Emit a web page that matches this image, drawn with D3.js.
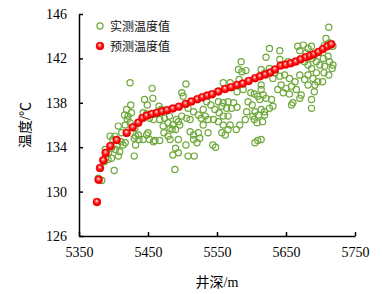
<!DOCTYPE html>
<html>
<head>
<meta charset="utf-8">
<script src="https://d3js.org/d3.v7.min.js"></script>
<style>
body { margin: 0; background: #fff; }
</style>
</head>
<body>
<svg width="382" height="294"></svg>
<script>
// measured temperature (green open circles): [depth m, temp C]
var measured = [
  [5378,131.2],[5383,131.0],[5387,132.7],[5388,133.8],[5392,132.9],[5393,133.5],[5397,133.9],[5397,133.0],
  [5403,133.8],[5409,133.6],[5407,133.2],[5411,134.5],[5414,134.2],[5395,135.0],[5402,135.0],[5399,134.7],
  [5407,135.9],[5412,135.3],[5401,131.9],[5430,133.2],[5432,134.2],[5430,134.8],[5432,135.0],[5436,135.1],
  [5437,134.7],[5443,134.7],[5448,135.1],[5419,137.4],[5416,136.9],[5426,137.1],[5421,136.8],[5424,139.8],
  [5425,137.8],[5445,138.3],[5456,139.3],[5457,138.4],[5417,136.0],[5424,136.2],[5431,135.7],[5389,133.1],
  [5405,134.2],[5420,136.5],[5448,137.0],[5443,137.1],[5449,137.8],[5452,136.6],[5458,136.5],[5467,136.5],
  [5465,137.1],[5469,137.4],[5466,137.7],[5450,135.3],[5452,134.7],[5460,134.6],[5467,134.6],[5458,134.5],
  [5417,134.4],
  [5474,136.6],[5481,136.8],[5479,136.2],[5486,136.0],[5491,136.5],[5485,135.6],[5490,135.6],[5473,135.3],
  [5479,135.0],[5490,133.9],[5486,133.3],[5489,132.0],[5494,133.5],[5496,136.0],[5494,136.3],[5499,136.8],
  [5506,136.6],[5511,136.5],[5508,137.5],[5516,137.2],[5505,139.7],[5499,138.9],[5501,138.6],[5511,135.4],
  [5516,135.1],[5523,135.3],[5525,134.8],[5516,134.7],[5521,134.4],[5508,133.2],[5517,133.2],[5530,137.4],
  [5523,136.9],[5527,136.6],[5533,136.8],[5537,136.5],[5545,136.5],[5535,138.1],[5541,137.8],[5547,137.4],
  [5537,135.3],[5530,136.0],[5548,134.0],[5544,134.2],[5472,135.9],[5482,134.7],[5494,134.7],[5505,134.2],
  [5482,135.7],
  [5552,138.1],[5559,138.0],[5566,138.1],[5574,138.0],[5579,137.6],[5571,137.5],[5564,137.5],[5557,137.7],
  [5553,137.1],[5559,136.8],[5566,136.8],[5552,136.3],[5559,136.0],[5569,136.0],[5566,135.6],[5562,135.1],
  [5557,135.3],[5585,141.7],[5581,141.0],[5586,140.8],[5592,140.9],[5559,139.8],[5569,139.8],[5582,140.1],
  [5579,139.0],[5588,139.2],[5604,138.8],[5609,138.6],[5595,138.1],[5601,137.8],[5605,137.2],[5610,136.9],
  [5604,136.5],[5608,136.2],[5593,137.2],[5605,134.4],[5609,134.6],[5599,138.9],[5614,139.2],[5614,137.4],
  [5619,136.9],[5602,136.8],[5616,136.3],[5583,136.0],[5591,136.5],[5578,135.6],
  [5626,142.9],[5641,142.7],[5621,142.1],[5641,141.9],[5653,141.7],[5712,144.8],[5708,143.8],[5713,143.4],
  [5706,143.2],[5718,143.1],[5667,143.1],[5675,143.2],[5682,142.9],[5670,142.7],[5679,142.5],[5687,143.1],
  [5688,142.0],[5694,141.7],[5704,142.0],[5711,142.2],[5713,141.7],[5699,141.4],[5706,141.3],[5718,141.4],
  [5677,141.7],[5682,141.4],[5687,141.1],[5694,140.7],[5682,140.5],[5689,140.2],[5696,139.9],[5692,139.6],
  [5682,139.6],[5677,140.1],[5670,140.5],[5614,141.0],[5619,140.7],[5626,141.1],[5634,140.7],[5641,140.4],
  [5631,140.2],[5648,140.5],[5655,140.2],[5663,139.9],[5658,139.5],[5650,139.3],[5643,139.6],[5638,139.2],
  [5646,138.9],[5655,138.8],[5665,139.2],[5672,138.7],[5670,138.4],[5614,139.6],[5617,138.7],[5612,138.3],
  [5621,138.4],[5629,138.3],[5631,137.7],[5626,137.5],[5660,138.0],[5658,137.8],[5687,138.3],[5687,137.5],
  [5619,137.2],[5614,134.7],[5705,140.7],[5712,140.5],[5717,141.1],[5691,139.0],[5703,139.9]
];

// predicted temperature (red balls)
var predDepth = [5376,5378.5,5380.4,5385.2,5388.7,5395.4,5404.6,5419.1,5427.8,5435.9,5442.0,5448.1,
  5455.5,5462.8,5470.3,5477.5,5485.9,5494.6,5504.4,5512.8,5521.5,5528.7,5535.9,5542.8,5551.9,5561.6,
  5570.3,5579.0,5587.3,5595.9,5605.1,5612.3,5620.0,5627.2,5634.1,5642.3,5649.6,5656.8,5664.1,5671.3,
  5678.6,5684.8,5690.6,5696.8,5703.6,5709.9,5715.7];
var predTemp = [129.06,131.07,132.12,132.82,133.49,134.10,134.64,135.29,135.79,136.21,136.63,136.84,
  137.00,137.11,137.23,137.34,137.48,137.65,137.90,138.11,138.33,138.51,138.65,138.78,139.01,139.25,
  139.41,139.61,139.73,139.97,140.22,140.39,140.54,140.72,141.01,141.35,141.44,141.56,141.71,141.92,
  142.10,142.25,142.37,142.58,142.85,143.09,143.27];

var xTicks = [5350, 5450, 5550, 5650, 5750];
var yTicks = [126, 130, 134, 138, 142, 146];
var legendLabels = ["实测温度值", "预测温度值"];

var svg = d3.select("svg");
var green = "#6ea83a";

var x = d3.scaleLinear().domain([5350, 5750]).range([79, 355]);
var y = d3.scaleLinear().domain([126, 146]).range([236, 14]);

// ball look for the red markers
var grad = svg.append("defs").append("radialGradient")
  .attr("id", "ball").attr("cx", "50%").attr("cy", "50%").attr("r", "55%")
  .attr("fx", "45%").attr("fy", "35%");
grad.append("stop").attr("offset", "0%").attr("stop-color", "#ffffff");
grad.append("stop").attr("offset", "30%").attr("stop-color", "#ff5a5a");
grad.append("stop").attr("offset", "65%").attr("stop-color", "#ff0000");
grad.append("stop").attr("offset", "100%").attr("stop-color", "#d40000");

// green measured points
svg.append("g").selectAll("circle")
  .data(measured)
  .enter().append("circle")
  .attr("cx", d => x(d[0]))
  .attr("cy", d => y(d[1]))
  .attr("r", 3.1)
  .attr("fill", "none")
  .attr("stroke", green)
  .attr("stroke-width", 1.2);

// red predicted points
svg.append("g").selectAll("circle")
  .data(predDepth)
  .enter().append("circle")
  .attr("cx", (d, i) => x(d))
  .attr("cy", (d, i) => y(predTemp[i]))
  .attr("r", 4)
  .attr("fill", "url(#ball)")
  .attr("stroke", "#e00000")
  .attr("stroke-width", 0.4);

// axes, ticks pointing inward
var xAxis = svg.append("g")
  .attr("transform", "translate(0,236)")
  .call(d3.axisBottom(x).tickValues(xTicks).tickFormat(d3.format("d"))
    .tickSizeInner(-4).tickSizeOuter(0).tickPadding(11));

var yAxis = svg.append("g")
  .attr("transform", "translate(79,0)")
  .call(d3.axisLeft(y).tickValues(yTicks).tickFormat(d3.format("d"))
    .tickSizeInner(-4).tickSizeOuter(0).tickPadding(12));

svg.selectAll(".domain, .tick line").attr("stroke", "#000").attr("stroke-width", 1.5);
svg.selectAll(".tick text")
  .attr("font-family", "Liberation Serif, Times New Roman, serif")
  .attr("font-size", "14px")
  .attr("fill", "#000");

// axis titles
svg.append("text")
  .attr("x", 217).attr("y", 287)
  .attr("text-anchor", "middle")
  .attr("font-family", "Liberation Serif, Noto Sans CJK SC, serif")
  .attr("font-size", "14px")
  .text("井深/m");

svg.append("text")
  .attr("transform", "translate(30,125) rotate(-90)")
  .attr("text-anchor", "middle")
  .attr("font-family", "Liberation Serif, Noto Sans CJK SC, serif")
  .attr("font-size", "14px")
  .text("温度/℃");

// legend
var leg = svg.append("g");
leg.append("circle").attr("cx", 100).attr("cy", 26).attr("r", 3.1)
  .attr("fill", "none").attr("stroke", green).attr("stroke-width", 1.2);
leg.append("circle").attr("cx", 100).attr("cy", 46).attr("r", 4)
  .attr("fill", "url(#ball)").attr("stroke", "#e00000").attr("stroke-width", 0.4);
leg.selectAll("text")
  .data(legendLabels)
  .enter().append("text")
  .attr("x", 110)
  .attr("y", (d, i) => 30.5 + i * 20)
  .attr("font-family", "Noto Sans CJK SC, sans-serif")
  .attr("font-size", "12px")
  .attr("fill", "#111")
  .text(d => d);
</script>
</body>
</html>
